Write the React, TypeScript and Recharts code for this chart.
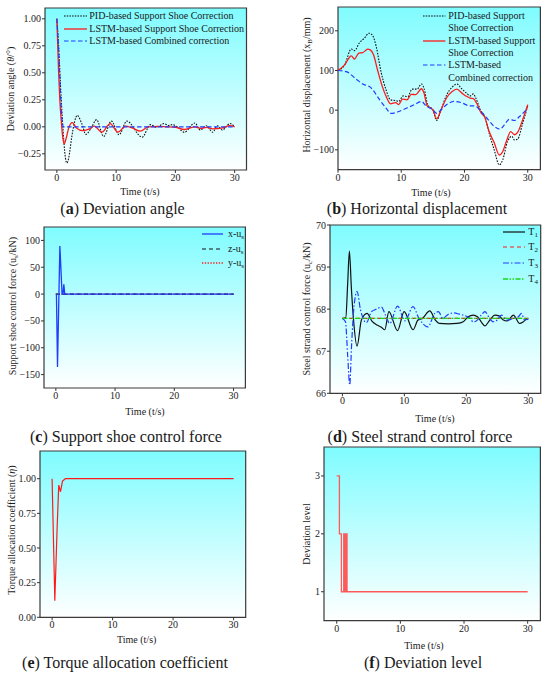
import React from 'react';
import { LineChart, Line, XAxis, YAxis, CartesianGrid, ReferenceArea } from 'recharts';

const FONT = '"Liberation Serif", "Times New Roman", serif';

// ---------- (a) Deviation angle ----------
const aPidTime = [0, 0.3, 0.6, 0.9, 1.2, 1.45, 1.7, 2.0, 2.5, 3.0, 3.45, 4.2, 4.9, 5.8, 6.7, 7.9, 9.2, 10.5, 11.8, 14.4, 15.8, 16.8, 18.1, 18.8, 19.5, 20.3, 21.5, 23.3, 24.2, 25.2, 26.3, 27.1, 27.9, 29.2, 30];
const aPidAngle = [1.0, 0.75, 0.4, 0.1, -0.15, -0.29, -0.335, -0.29, -0.1, 0.05, 0.106, 0.03, -0.07, -0.01, 0.066, -0.09, 0.053, -0.074, 0.053, -0.096, 0.02, -0.005, 0.03, 0.012, 0.02, 0.0, -0.05, 0.035, -0.03, 0.01, -0.05, 0.01, -0.03, 0.03, 0.0];
const aLstmTime = [0, 0.15, 0.3, 0.5, 0.75, 1.0, 1.25, 1.6, 2.0, 2.6, 3.3, 4.4, 5.5, 6.3, 7.6, 9.0, 10.3, 11.6, 12.7, 14.1, 15.4, 17.0, 18.5, 20.0, 21.5, 23.3, 24.3, 25.3, 26.3, 28.0, 29.2, 30];
const aLstmAngle = [1.0, 0.75, 0.5, 0.25, 0.05, -0.1, -0.155, -0.1, -0.01, 0.038, -0.01, -0.035, -0.02, 0.006, -0.05, 0.03, -0.05, 0.006, -0.01, -0.04, 0.0, 0.004, 0.0, -0.004, -0.025, 0.0, -0.015, -0.006, -0.02, -0.01, 0.01, 0.0];
const aCombTime = [0, 0.3, 0.5, 0.7, 0.9, 1.1, 30];
const aCombAngle = [1.0, 0.7, 0.46, 0.2, 0.05, 0.0, 0.0];
const aYTicks = [-0.25, 0, 0.25, 0.5, 0.75, 1.0];

// ---------- (b) Horizontal displacement ----------
const bPidTime = [0, 1.05, 2.1, 2.6, 3.4, 4.2, 4.9, 5.4, 6.05, 6.8, 7.6, 8.3, 9.2, 9.6, 10.3, 11.05, 11.7, 12.5, 13.2, 13.6, 14.2, 15.0, 15.6, 16.3, 17.2, 18.05, 18.8, 19.5, 20.3, 20.9, 21.4, 21.8, 22.6, 23.2, 23.9, 24.7, 25.5, 26.05, 26.8, 27.5, 27.9, 28.4, 29.2, 30];
const bPidDisp = [100, 114, 154, 150, 170, 182, 194, 190, 160, 97, 51, 26, 24, 22, 36, 34, 53, 53, 66, 55, 13, 1, -26, 1, 39, 58, 66, 55, 43, 36, 41, 30, -3, -16, -58, -100, -138, -125, -79, -66, -75, -73, -33, 11];
const bLstmTime = [0, 1.05, 2.1, 2.6, 3.3, 3.9, 4.7, 5.1, 5.6, 6.3, 7.0, 7.6, 8.3, 9.1, 9.6, 10.2, 10.9, 11.6, 12.3, 13.2, 13.6, 14.1, 15.0, 15.6, 16.3, 17.2, 18.05, 18.8, 19.6, 20.3, 21.0, 21.4, 21.9, 22.6, 23.2, 23.9, 24.7, 25.5, 26.05, 26.7, 27.3, 27.9, 28.4, 29.2, 30];
const bLstmDisp = [100, 114, 137, 129, 144, 145, 154, 152, 140, 98, 60, 35, 16, 19, 14, 28, 26, 40, 39, 54, 43, 11, 1, -22, 1, 32, 47, 53, 43, 35, 30, 29, 18, -6, -18, -54, -82, -113, -104, -75, -54, -62, -56, -24, 14];
const bCombTime = [0, 1.3, 2.9, 3.9, 5.1, 6.6, 7.6, 8.4, 9.5, 10.8, 12.1, 13.2, 13.9, 15.0, 15.6, 16.3, 17.2, 18.4, 19.5, 20.8, 21.6, 22.6, 23.7, 24.7, 25.6, 26.3, 27.1, 27.9, 28.7, 30];
const bCombDisp = [100, 97, 78, 66, 58, 26, 5, -8, -4, 5, 14, 22, 11, 1, -8, 1, 14, 22, 19, 11, 11, -3, -23, -41, -48, -37, -23, -26, -16, 5];
const bYTicks = [-100, 0, 100, 200];

// ---------- (c) Support shoe control force ----------
const cXTime = [0, 0.1, 0.28, 0.68, 1.05, 1.2, 1.35, 1.5, 30];
const cXForce = [0, 0, -136, 89.5, 0, 0, 18, 0, 0];
const cZTime = [0, 30];
const cZForce = [0, 0];
const cYTime = [0, 30];
const cYForce = [0, 0];
const cYTicks = [-150, -100, -50, 0, 50, 100];

// ---------- (d) Steel strand control force ----------
const dT1Time = [0, 0.55, 0.85, 1.13, 1.45, 1.78, 2.37, 3.07, 3.98, 4.8, 5.5, 6.3, 6.84, 7.5, 8.9, 9.96, 11.4, 12.2, 12.9, 14.1, 15.0, 15.6, 17.1, 18.5, 19.5, 20.3, 21.1, 21.8, 22.4, 23.0, 23.7, 24.6, 25.3, 25.9, 26.6, 27.6, 28.6, 29.2, 29.7, 30];
const dT1Force = [67.78, 67.8, 68.6, 69.38, 68.5, 67.78, 67.12, 67.74, 67.9, 67.71, 67.63, 67.57, 67.51, 67.94, 67.49, 67.94, 67.51, 67.74, 67.78, 67.96, 67.74, 67.66, 67.65, 67.66, 67.7, 67.82, 67.86, 67.82, 67.7, 67.6, 67.72, 67.86, 67.84, 67.75, 67.72, 67.86, 67.66, 67.7, 67.76, 67.76];
const dT2Time = [0, 30];
const dT2Force = [67.78, 67.78];
const dT3Time = [0, 0.5, 0.85, 1.18, 1.5, 1.9, 2.37, 2.9, 3.88, 4.7, 5.5, 6.3, 6.95, 7.65, 8.9, 10.1, 11.4, 12.3, 13.8, 14.9, 15.5, 16.2, 17.1, 17.9, 18.9, 19.7, 20.6, 21.1, 21.6, 22.4, 23.0, 23.6, 24.3, 24.8, 25.7, 26.2, 26.7, 27.5, 28.4, 28.9, 29.4, 30];
const dT3Force = [67.78, 67.7, 66.9, 66.2, 67.2, 68.1, 68.42, 68.0, 67.68, 67.94, 68.0, 68.05, 67.86, 67.66, 68.07, 67.72, 68.06, 67.8, 67.58, 67.9, 67.94, 67.78, 67.88, 67.91, 67.88, 67.85, 67.78, 67.7, 67.72, 67.86, 67.94, 67.82, 67.7, 67.72, 67.86, 67.78, 67.74, 67.78, 67.82, 67.9, 67.74, 67.78];
const dT4Time = [0, 30];
const dT4Force = [67.78, 67.78];
const dYTicks = [66, 67, 68, 69, 70];

// ---------- (e) Torque allocation coefficient ----------
const eTime = [0, 0.45, 0.83, 1.1, 1.39, 1.72, 2.2, 30];
const eCoef = [1.0, 0.12, 0.645, 0.954, 0.906, 0.983, 1.0, 1.0];
const eYTicks = [0, 0.25, 0.5, 0.75, 1.0];

// ---------- (f) Deviation level ----------
const fTime = [0, 0.42, 0.73, 1.1, 1.14, 1.18, 1.22, 1.26, 1.3, 1.34, 1.38, 1.42, 1.46, 1.5, 1.54, 1.58, 1.62, 30];
const fLevel = [3, 2, 1, 2, 1, 2, 1, 2, 1, 2, 1, 2, 1, 2, 1, 2, 1, 1];
const fYTicks = [1, 2, 3];

const xTicks = [0, 10, 20, 30];

const zip = (ts: number[], vs: number[]) => ts.map((t, i) => ({ t, v: vs[i] }));

const minus = (s: string) => s.replace('-', '\u2212');
const fmt2 = (v: number) => minus(v.toFixed(2));
const fmt0 = (v: number) => minus(String(v));

const YW = 40;
const XH = 24;
const PAD = 4;

type PanelProps = {
  L: number; T: number; R: number; B: number;
  xDomain: [number, number]; yDomain: [number, number];
  yTicks: number[]; yFmt: (v: number) => string;
  children: React.ReactNode;
};

function Panel({ L, T, R, B, xDomain, yDomain, yTicks, yFmt, children }: PanelProps) {
  const w = R - L;
  const h = B - T;
  const tick = { fontFamily: FONT, fontSize: 10, fill: '#222' };
  return (
    <div style={{ position: 'absolute', left: L - YW, top: T - PAD }}>
      <LineChart width={w + YW + PAD} height={h + PAD + XH} margin={{ top: PAD, right: PAD, bottom: 0, left: 0 }}>
        <CartesianGrid horizontal={false} vertical={false} fill="url(#bgGrad)" />
        <XAxis type="number" dataKey="t" domain={xDomain} ticks={xTicks} interval={0} height={XH}
          axisLine={false} tickLine={{ stroke: '#333' }} tickSize={3} tickMargin={1} tick={tick} allowDataOverflow />
        <YAxis type="number" domain={yDomain} ticks={yTicks} interval={0} width={YW}
          axisLine={false} tickLine={{ stroke: '#333' }} tickSize={3} tickMargin={1} tick={tick}
          tickFormatter={yFmt} allowDataOverflow />
        {children}
        <ReferenceArea x1={xDomain[0]} x2={xDomain[1]} y1={yDomain[0]} y2={yDomain[1]}
          fill="none" stroke="#3a3a3a" strokeWidth={1.2} ifOverflow="visible" />
      </LineChart>
    </div>
  );
}

function Txt({ x, y, rot, size = 10, children }: { x: number; y: number; rot?: boolean; size?: number; children: React.ReactNode }) {
  return (
    <div style={{
      position: 'absolute', left: x, top: y,
      transform: `translate(-50%,-50%)${rot ? ' rotate(-90deg)' : ''}`,
      fontFamily: FONT, fontSize: size, lineHeight: 1, whiteSpace: 'nowrap', color: '#1a1a1a',
    }}>{children}</div>
  );
}

const Sub = ({ children }: { children: React.ReactNode }) => (
  <span style={{ fontSize: '70%', position: 'relative', top: '0.3em' }}>{children}</span>
);

type LegRow = { y: number; text: React.ReactNode; stroke?: string; dash?: string; sw?: number };

function Leg({ sx, ex, tx, rows }: { sx: number; ex: number; tx: number; rows: LegRow[] }) {
  return (
    <>
      {rows.map((r, i) => (
        <React.Fragment key={i}>
          {r.stroke && (
            <svg style={{ position: 'absolute', left: sx, top: r.y - 3 }} width={ex - sx} height={6}>
              <line x1={0} y1={3} x2={ex - sx} y2={3} stroke={r.stroke} strokeWidth={r.sw ?? 1.2} strokeDasharray={r.dash} />
            </svg>
          )}
          <div style={{
            position: 'absolute', left: tx, top: r.y, transform: 'translateY(-50%)',
            fontFamily: FONT, fontSize: 10, lineHeight: 1, whiteSpace: 'nowrap', color: '#1a1a1a',
          }}>{r.text}</div>
        </React.Fragment>
      ))}
    </>
  );
}

const PID_C = '#111111';
const PID_D = '1.6 1.3';
const RED = '#ff1a1a';
const BLUE = '#1f3cff';
const BLUE_D = '4.5 2.5';

const lp = { dot: false, activeDot: false, isAnimationActive: false, dataKey: 'v' } as const;

export default function App() {
  return (
    <div style={{ position: 'absolute', left: 0, top: 0, width: 550, height: 676, background: '#fff', overflow: 'hidden' }}>
      <svg width={0} height={0} style={{ position: 'absolute' }}>
        <defs>
          <linearGradient id="bgGrad" x1="0" y1="0" x2="0" y2="1">
            <stop offset="0%" stopColor="#7ffcff" />
            <stop offset="100%" stopColor="#ffffff" />
          </linearGradient>
        </defs>
      </svg>

      {/* (a) */}
      <Panel L={44.5} T={8} R={246} B={170} xDomain={[-2, 32]} yDomain={[-0.4, 1.1]} yTicks={aYTicks} yFmt={fmt2}>
        <Line {...lp} data={zip(aPidTime, aPidAngle)} type="monotone" stroke={PID_C} strokeWidth={1.1} strokeDasharray={PID_D} />
        <Line {...lp} data={zip(aLstmTime, aLstmAngle)} type="monotone" stroke={RED} strokeWidth={1.3} />
        <Line {...lp} data={zip(aCombTime, aCombAngle)} type="monotone" stroke={BLUE} strokeWidth={1.2} strokeDasharray={BLUE_D} />
      </Panel>

      {/* (b) */}
      <Panel L={338.3} T={7.3} R={540.7} B={170} xDomain={[0, 32]} yDomain={[-150, 260]} yTicks={bYTicks} yFmt={fmt0}>
        <Line {...lp} data={zip(bPidTime, bPidDisp)} type="monotone" stroke={PID_C} strokeWidth={1.1} strokeDasharray={PID_D} />
        <Line {...lp} data={zip(bLstmTime, bLstmDisp)} type="monotone" stroke={RED} strokeWidth={1.3} />
        <Line {...lp} data={zip(bCombTime, bCombDisp)} type="monotone" stroke={BLUE} strokeWidth={1.2} strokeDasharray={BLUE_D} />
      </Panel>

      {/* (c) */}
      <Panel L={44.3} T={227} R={245.7} B={388} xDomain={[-2, 32]} yDomain={[-175, 125]} yTicks={cYTicks} yFmt={fmt0}>
        <Line {...lp} data={zip(cYTime, cYForce)} type="linear" stroke={RED} strokeWidth={1.3} strokeDasharray="1.3 1.5" />
        <Line {...lp} data={zip(cZTime, cZForce)} type="linear" stroke={PID_C} strokeWidth={1.2} strokeDasharray="4 3" />
        <Line {...lp} data={zip(cXTime, cXForce)} type="linear" stroke={BLUE} strokeWidth={1.3} />
      </Panel>

      {/* (d) */}
      <Panel L={330} T={225} R={540.7} B={393.3} xDomain={[-2, 32]} yDomain={[66, 70]} yTicks={dYTicks} yFmt={fmt0}>
        <Line {...lp} data={zip(dT1Time, dT1Force)} type="monotone" stroke="#111" strokeWidth={1.2} />
        <Line {...lp} data={zip(dT2Time, dT2Force)} type="linear" stroke={RED} strokeWidth={1.2} strokeDasharray="4 3" />
        <Line {...lp} data={zip(dT3Time, dT3Force)} type="monotone" stroke={BLUE} strokeWidth={1.2} strokeDasharray="6 2 1.5 2" />
        <Line {...lp} data={zip(dT4Time, dT4Force)} type="linear" stroke="#1ad61a" strokeWidth={1.3} strokeDasharray="5 1.5 1.5 1.5 1.5 1.5" />
      </Panel>

      {/* (e) */}
      <Panel L={40} T={451} R={245.7} B={617.3} xDomain={[-2, 32]} yDomain={[0, 1.2]} yTicks={eYTicks} yFmt={fmt2}>
        <Line {...lp} data={zip(eTime, eCoef)} type="linear" stroke={RED} strokeWidth={1.2} />
      </Panel>

      {/* (f) */}
      <Panel L={324.3} T={447} R={540.7} B={620.7} xDomain={[-2, 32]} yDomain={[0.5, 3.5]} yTicks={fYTicks} yFmt={fmt0}>
        <Line {...lp} data={zip(fTime, fLevel)} type="stepAfter" stroke="#ff5a5a" strokeWidth={1.3} />
      </Panel>

      {/* axis titles */}
      <Txt x={140} y={192.3}>Time (t/s)</Txt>
      <Txt x={11} y={89} rot>Deviation angle (<i>θ</i>/°)</Txt>
      <Txt x={431} y={192.7}>Time (t/s)</Txt>
      <Txt x={307.3} y={85} rot>Horizontal displacement (x<Sub>B</Sub>/mm)</Txt>
      <Txt x={145} y={412.3}>Time (t/s)</Txt>
      <Txt x={12.7} y={306} rot>Support shoe control force (u<Sub>s</Sub>/kN)</Txt>
      <Txt x={435} y={419.3}>Time (t/s)</Txt>
      <Txt x={307.3} y={309} rot>Steel strand control force (u<Sub>c</Sub>/kN)</Txt>
      <Txt x={136.7} y={640}>Time (t/s)</Txt>
      <Txt x={11.7} y={530} rot>Torque allocation coefficient (<i>η</i>)</Txt>
      <Txt x={424} y={645.7}>Time (t/s)</Txt>
      <Txt x={307} y={533.5} rot>Deviation level</Txt>

      {/* legends */}
      <Leg sx={64.3} ex={87.3} tx={89.3} rows={[
        { y: 16, text: 'PID-based Support Shoe Correction', stroke: PID_C, dash: '1.6 1.1', sw: 1.1 },
        { y: 28.7, text: 'LSTM-based Support Shoe Correction', stroke: RED, sw: 1.3 },
        { y: 41, text: 'LSTM-based Combined  correction', stroke: BLUE, dash: BLUE_D, sw: 1.2 },
      ]} />
      <Leg sx={423.3} ex={445.7} tx={448.3} rows={[
        { y: 15.7, text: 'PID-based Support', stroke: PID_C, dash: '1.6 1.1', sw: 1.1 },
        { y: 28.3, text: 'Shoe Correction' },
        { y: 40.7, text: 'LSTM-based Support', stroke: RED, sw: 1.3 },
        { y: 52.7, text: 'Shoe Correction' },
        { y: 65.3, text: 'LSTM-based', stroke: BLUE, dash: BLUE_D, sw: 1.2 },
        { y: 77.7, text: 'Combined  correction' },
      ]} />
      <Leg sx={202} ex={223} tx={228} rows={[
        { y: 234, text: <>x-u<Sub>s</Sub></>, stroke: BLUE, sw: 1.3 },
        { y: 249.3, text: <>z-u<Sub>s</Sub></>, stroke: PID_C, dash: '4 3', sw: 1.2 },
        { y: 263.3, text: <>y-u<Sub>s</Sub></>, stroke: RED, dash: '1.3 1.5', sw: 1.3 },
      ]} />
      <Leg sx={502.7} ex={525} tx={528.3} rows={[
        { y: 231.7, text: <>T<Sub>1</Sub></>, stroke: '#111', sw: 1.2 },
        { y: 247.3, text: <>T<Sub>2</Sub></>, stroke: RED, dash: '4 3', sw: 1.2 },
        { y: 263.3, text: <>T<Sub>3</Sub></>, stroke: BLUE, dash: '6 2 1.5 2', sw: 1.2 },
        { y: 279, text: <>T<Sub>4</Sub></>, stroke: '#1ad61a', dash: '5 1.5 1.5 1.5 1.5 1.5', sw: 1.3 },
      ]} />

      {/* captions */}
      <Txt x={122.5} y={209} size={16}>(<b>a</b>) Deviation angle</Txt>
      <Txt x={417} y={209} size={16}>(<b>b</b>) Horizontal displacement</Txt>
      <Txt x={126} y={437} size={16}>(<b>c</b>) Support shoe control force</Txt>
      <Txt x={420} y={437} size={16}>(<b>d</b>) Steel strand control force</Txt>
      <Txt x={125} y={663} size={16}>(<b>e</b>) Torque allocation coefficient</Txt>
      <Txt x={423} y={663} size={16}>(<b>f</b>) Deviation level</Txt>
    </div>
  );
}
